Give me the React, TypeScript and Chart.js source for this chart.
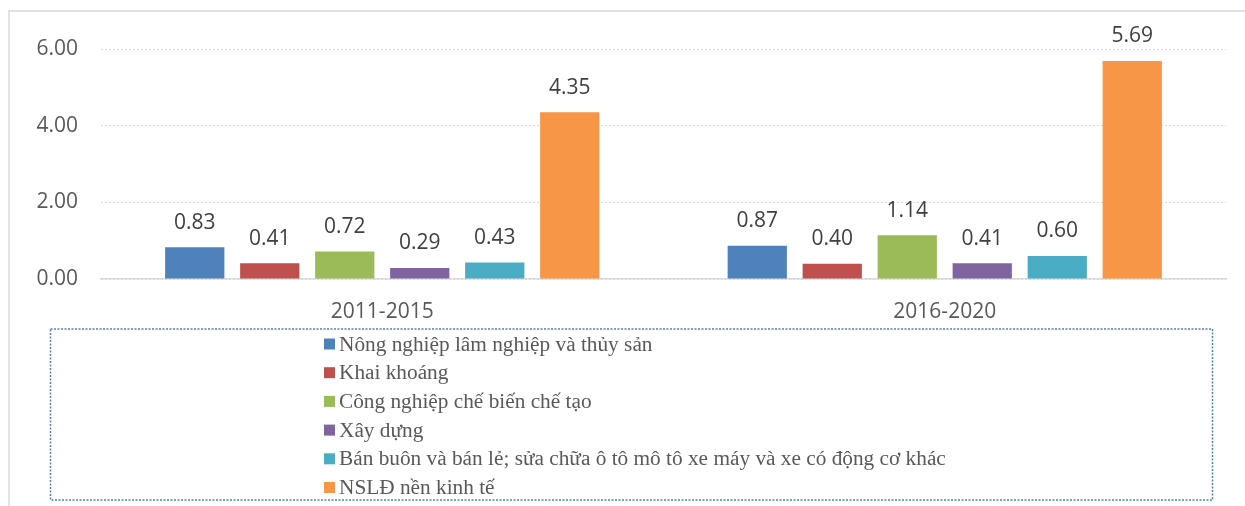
import React, { useEffect, useRef } from "react";
import { Chart, registerables } from "chart.js";

Chart.register(...registerables);

const categories = ["2011-2015", "2016-2020"];
const seriesNames = [
  "Nông nghiệp lâm nghiệp và thủy sản",
  "Khai khoáng",
  "Công nghiệp chế biến chế tạo",
  "Xây dựng",
  "Bán buôn và bán lẻ; sửa chữa ô tô mô tô xe máy và xe có động cơ khác",
  "NSLĐ nền kinh tế",
];
const nongNghiep = [0.83, 0.87];
const khaiKhoang = [0.41, 0.4];
const congNghiep = [0.72, 1.14];
const xayDung = [0.29, 0.41];
const banBuon = [0.43, 0.6];
const nsld = [4.35, 5.69];
const seriesValues = [nongNghiep, khaiKhoang, congNghiep, xayDung, banBuon, nsld];
const colors = ["#4F81BD", "#C0504D", "#9BBB59", "#8064A2", "#4BACC6", "#F79646"];
const yTicks = [0, 2, 4, 6];

const SANS = "'Open Sans', sans-serif";
const SERIF = "'Liberation Serif', 'Times New Roman', serif";

const decorPlugin = {
  id: "decor",
  beforeDraw(chart: any) {
    const ctx = chart.ctx;
    ctx.save();
    ctx.fillStyle = "#ffffff";
    ctx.fillRect(0, 0, chart.width, chart.height);
    ctx.strokeStyle = "#d9d9d9";
    ctx.lineWidth = 1.5;
    ctx.beginPath();
    ctx.moveTo(9, chart.height);
    ctx.lineTo(9, 11);
    ctx.lineTo(chart.width, 11);
    ctx.stroke();
    ctx.restore();
  },
  afterDraw(chart: any) {
    const ctx = chart.ctx;
    ctx.save();
    // data labels
    ctx.font = `21px ${SANS}`;
    ctx.fillStyle = "#404040";
    ctx.textAlign = "center";
    ctx.textBaseline = "middle";
    chart.data.datasets.forEach((ds: any, di: number) => {
      const meta = chart.getDatasetMeta(di);
      meta.data.forEach((bar: any, i: number) => {
        ctx.fillText(Number(ds.data[i]).toFixed(2), bar.x, bar.y - 24.5);
      });
    });
    // legend box
    ctx.strokeStyle = "#4F81BD";
    ctx.lineWidth = 1.5;
    ctx.setLineDash([2, 1.5]);
    ctx.strokeRect(50.5, 329, 1162, 171);
    ctx.setLineDash([]);
    ctx.font = `21.3px ${SERIF}`;
    ctx.textAlign = "left";
    ctx.textBaseline = "middle";
    chart.data.datasets.forEach((ds: any, di: number) => {
      const cy = 344 + di * 28.7;
      ctx.fillStyle = ds.backgroundColor;
      ctx.fillRect(324, cy - 5.5, 11, 11);
      ctx.fillStyle = "#595959";
      ctx.fillText(ds.label, 339, cy + 1);
    });
    ctx.restore();
  },
};

export default function App() {
  const ref = useRef<HTMLCanvasElement>(null);
  useEffect(() => {
    if (!ref.current) return;
    const chart = new Chart(ref.current, {
      type: "bar",
      data: {
        labels: categories,
        datasets: seriesNames.map((name, i) => ({
          label: name,
          data: seriesValues[i],
          backgroundColor: colors[i],
          borderWidth: 0,
          categoryPercentage: 0.8,
          barPercentage: 0.79,
        })),
      },
      options: {
        animation: false,
        responsive: false,
        maintainAspectRatio: false,
        layout: { padding: { left: 0, right: 19, top: 49, bottom: 177 } },
        plugins: {
          legend: { display: false },
          tooltip: { enabled: false },
          title: { display: false },
        },
        scales: {
          x: {
            grid: { display: false, drawTicks: false },
            border: { display: true, color: "#d9d9d9", width: 1.5 },
            ticks: {
              color: "#595959",
              font: { family: SANS, size: 21 },
              padding: 20,
            },
            afterFit(scale: any) {
              scale.height = 50;
            },
          },
          y: {
            min: 0,
            max: 6,
            afterBuildTicks(scale: any) {
              scale.ticks = yTicks.map((v) => ({ value: v }));
            },
            grid: { color: "#d9d9d9", drawTicks: false, lineWidth: 1 },
            border: { display: false, dash: [2, 2] },
            ticks: {
              color: "#595959",
              font: { family: SANS, size: 21 },
              padding: 23,
              callback: (v: any) => Number(v).toFixed(2),
            },
            afterFit(scale: any) {
              scale.width = 101;
            },
          },
        },
      },
      plugins: [decorPlugin],
    });
    return () => chart.destroy();
  }, []);
  return (
    <div style={{ position: "absolute", left: 0, top: 0, width: 1245, height: 506 }}>
      <canvas ref={ref} width={1245} height={506} style={{ display: "block" }} />
    </div>
  );
}
